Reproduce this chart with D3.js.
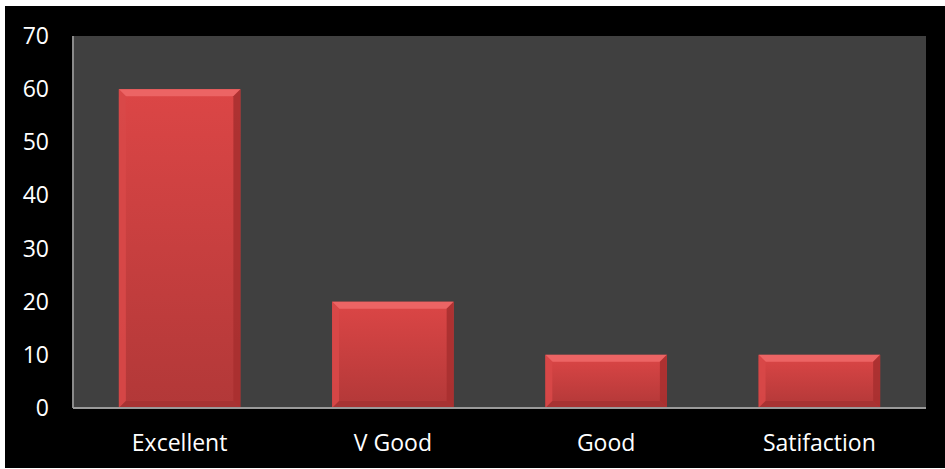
<!DOCTYPE html>
<html>
<head>
<meta charset="utf-8">
<script src="https://cdn.jsdelivr.net/npm/d3@7"></script>
<style>
  html, body { margin: 0; padding: 0; background: #ffffff; }
  svg { display: block; }
  text { font-family: "Open Sans", sans-serif; fill: #ffffff; }
</style>
</head>
<body>
<svg id="chart" width="945" height="469"></svg>
<script>
const categories = ["Excellent", "V Good", "Good", "Satifaction"];
const values = [60, 20, 10, 10];
const yTicks = [0, 10, 20, 30, 40, 50, 60, 70];

const W = 945, H = 469;
const plot = { left: 73, right: 926, top: 36, bottom: 408 };

const svg = d3.select("#chart");

// outer black frame
svg.append("rect").attr("x", 5).attr("y", 6).attr("width", W - 5).attr("height", H - 7).attr("fill", "#000000");

// plot area
svg.append("rect")
  .attr("x", plot.left).attr("y", plot.top)
  .attr("width", plot.right - plot.left).attr("height", plot.bottom - plot.top)
  .attr("fill", "#404040");

const x = d3.scaleBand().domain(categories).range([plot.left, plot.right]).paddingInner(0.43).paddingOuter(0.215);
const y = d3.scaleLinear().domain([0, 70]).range([plot.bottom, plot.top]);

// gradient for bar face
const defs = svg.append("defs");
const g = defs.append("linearGradient").attr("id", "face").attr("x1", 0).attr("y1", 0).attr("x2", 0).attr("y2", 1);
g.append("stop").attr("offset", "0%").attr("stop-color", "#dc4646");
g.append("stop").attr("offset", "100%").attr("stop-color", "#b23838");

// bars with bevel
const bars = svg.append("g");
categories.forEach((c, i) => {
  const x0 = x(c), x1 = x(c) + x.bandwidth();
  const y0 = y(values[i]), y1 = y(0);
  const b = Math.min(7, (y1 - y0) / 3);
  const grp = bars.append("g");
  grp.append("rect").attr("x", x0).attr("y", y0).attr("width", x1 - x0).attr("height", y1 - y0).attr("fill", "url(#face)");
  // top bevel
  grp.append("polygon").attr("points", [[x0, y0], [x1, y0], [x1 - b, y0 + b], [x0 + b, y0 + b]].join(" "))
    .attr("fill", "#ec6464");
  // left bevel
  grp.append("polygon").attr("points", [[x0, y0], [x0 + b, y0 + b], [x0 + b, y1 - b], [x0, y1]].join(" "))
    .attr("fill", "#d84848").attr("opacity", 0.9);
  // right bevel
  grp.append("polygon").attr("points", [[x1, y0], [x1, y1], [x1 - b, y1 - b], [x1 - b, y0 + b]].join(" "))
    .attr("fill", "#a83030").attr("opacity", 0.9);
  // bottom bevel
  grp.append("polygon").attr("points", [[x0, y1], [x1, y1], [x1 - b, y1 - b], [x0 + b, y1 - b]].join(" "))
    .attr("fill", "#a53333").attr("opacity", 0.85);
});

// axes lines
svg.append("line").attr("x1", plot.left).attr("x2", plot.left).attr("y1", plot.top).attr("y2", plot.bottom)
  .attr("stroke", "#8a8a8a").attr("stroke-width", 2);
svg.append("line").attr("x1", plot.left).attr("x2", plot.right).attr("y1", plot.bottom).attr("y2", plot.bottom)
  .attr("stroke", "#9a9a9a").attr("stroke-width", 2);

// y tick labels
svg.append("g").selectAll("text").data(yTicks).join("text")
  .attr("x", 49).attr("y", d => y(d) + 8)
  .attr("text-anchor", "end").attr("font-size", 23)
  .text(d => d);

// x category labels
svg.append("g").selectAll("text").data(categories).join("text")
  .attr("x", d => x(d) + x.bandwidth() / 2).attr("y", 451)
  .attr("text-anchor", "middle").attr("font-size", 23)
  .text(d => d);
</script>
</body>
</html>
